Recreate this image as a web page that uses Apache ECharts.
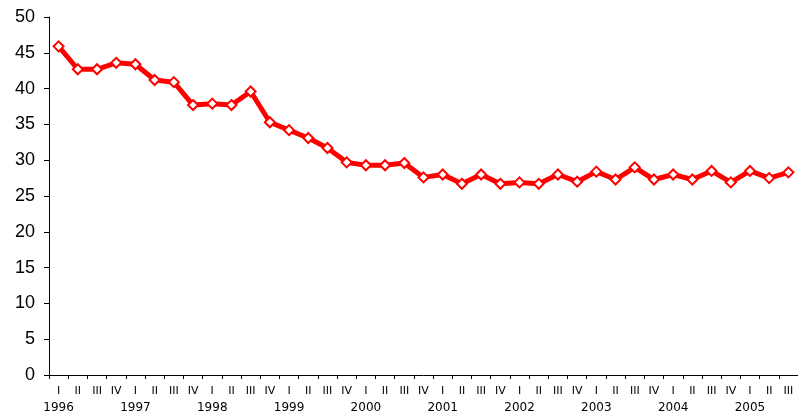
<!DOCTYPE html>
<html>
<head>
<meta charset="utf-8">
<script src="https://cdn.jsdelivr.net/npm/echarts@6/dist/echarts.min.js"></script>
<style>
  html, body { margin: 0; padding: 0; background: #fff; }
  #main { width: 798px; height: 418px; }
</style>
</head>
<body>
<div id="main"></div>
<script>
// quarters and years
var years = ['1996', '1997', '1998', '1999', '2000', '2001', '2002', '2003', '2004', '2005'];
var quarters = ['I', 'II', 'III', 'IV'];
var values = [
  45.9, 42.7, 42.7, 43.6,
  43.4, 41.2, 40.9, 37.7,
  37.9, 37.7, 39.6, 35.3,
  34.2, 33.1, 31.7, 29.7,
  29.3, 29.3, 29.6, 27.6,
  28.0, 26.7, 28.0, 26.7,
  26.9, 26.7, 28.0, 27.0,
  28.4, 27.3, 29.0, 27.3,
  28.0, 27.3, 28.5, 26.9,
  28.5, 27.5, 28.3
];

var cats = [];
for (var i = 0; i < values.length; i++) {
  var q = quarters[i % 4];
  var y = years[Math.floor(i / 4)];
  cats.push(q === 'I' ? '{q|I}\n{y|' + y + '}' : '{q|' + q + '}');
}

var chart = echarts.init(document.getElementById('main'));
chart.setOption({
  backgroundColor: '#fff',
  animation: false,
  grid: { left: 49, right: 0, top: 17, bottom: 43 },
  xAxis: {
    type: 'category',
    data: cats,
    boundaryGap: true,
    axisLine: { lineStyle: { color: '#000', width: 1 } },
    axisTick: { show: true, length: 4, lineStyle: { color: '#000' } },
    axisLabel: {
      interval: 0,
      margin: 9,
      color: '#000',
      fontFamily: 'DejaVu Sans',
      rich: {
        q: { fontSize: 11, lineHeight: 14, color: '#000', fontFamily: 'DejaVu Sans' },
        y: { fontSize: 12, lineHeight: 20, color: '#000', fontFamily: 'DejaVu Sans' }
      }
    },
    splitLine: { show: false }
  },
  yAxis: {
    type: 'value',
    min: 0,
    max: 50,
    interval: 5,
    axisLine: { show: true, lineStyle: { color: '#000', width: 1 } },
    axisTick: { show: true, length: 5, lineStyle: { color: '#000' } },
    axisLabel: { color: '#000', fontSize: 18, margin: 14, fontFamily: 'Liberation Sans' },
    splitLine: { show: false }
  },
  series: [{
    type: 'line',
    data: values,
    symbol: 'diamond',
    symbolSize: 10,
    lineStyle: { color: '#ff0000', width: 5 },
    itemStyle: { color: '#fff', borderColor: '#ff0000', borderWidth: 2 }
  }]
});
</script>
</body>
</html>
